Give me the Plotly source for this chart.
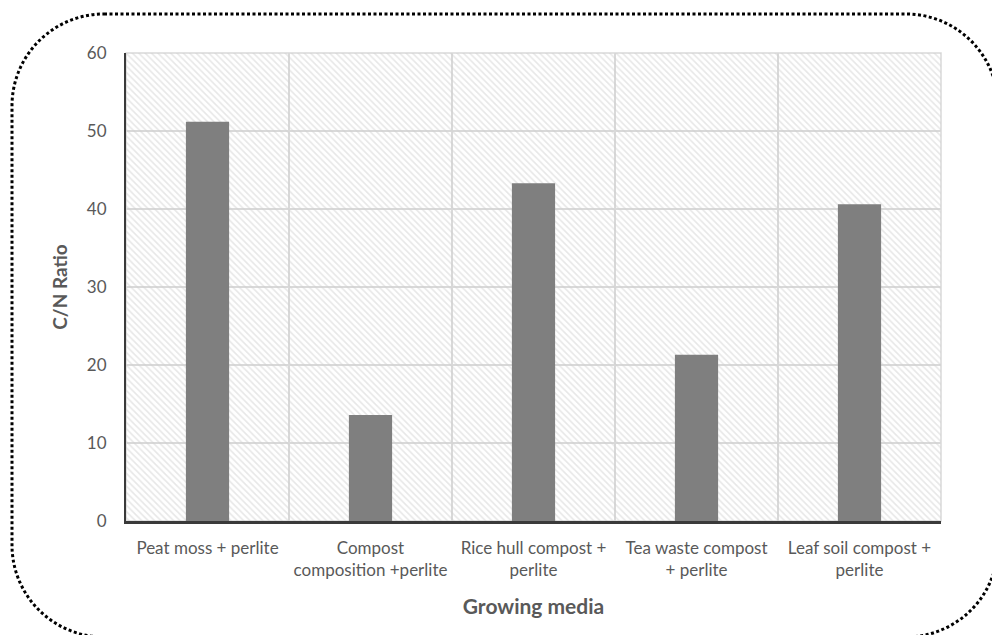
import plotly.graph_objects as go

# Growing media and their measured C/N ratios
media = [
    "Peat moss + perlite",
    "Compost<br>composition +perlite",
    "Rice hull compost +<br>perlite",
    "Tea waste compost<br>+ perlite",
    "Leaf soil compost +<br>perlite",
]
cn_ratio = [51.2, 13.6, 43.3, 21.3, 40.6]
y_ticks = [0, 10, 20, 30, 40, 50, 60]

FONT = "Lato"
TEXT_GREY = "#595959"

W, H = 992, 635
L, R, T, B = 126, 51, 53, 114
PW, PH = W - L - R, H - T - B


def px(x):
    return (x - L) / PW


def py(y):
    return (H - B - y) / PH


def rounded_rect(x0, y0, x1, y1, r):
    # rounded rectangle in paper units, built from cubic corners
    k = 0.5523 * r
    pts = [
        ("M", [(x0 + r, y0)]),
        ("L", [(x1 - r, y0)]),
        ("C", [(x1 - r + k, y0), (x1, y0 + r - k), (x1, y0 + r)]),
        ("L", [(x1, y1 - r)]),
        ("C", [(x1, y1 - r + k), (x1 - r + k, y1), (x1 - r, y1)]),
        ("L", [(x0 + r, y1)]),
        ("C", [(x0 + r - k, y1), (x0, y1 - r + k), (x0, y1 - r)]),
        ("L", [(x0, y0 + r)]),
        ("C", [(x0, y0 + r - k), (x0 + r - k, y0), (x0 + r, y0)]),
    ]
    s = ""
    for cmd, coords in pts:
        s += cmd + " " + " ".join(f"{px(a):.5f},{py(b):.5f}" for a, b in coords) + " "
    return s + "Z"


fig = go.Figure()

# hatched plot background spanning every category
fig.add_trace(go.Bar(
    x=[media[len(media) // 2]], y=[y_ticks[-1]], width=[len(media)],
    marker=dict(
        color="rgba(0,0,0,0)",
        line=dict(width=0),
        pattern=dict(shape="\\", fgcolor="#cfcfcf", bgcolor="rgba(0,0,0,0)",
                     size=4.5, solidity=0.35, fillmode="overlay"),
    ),
    hoverinfo="skip", showlegend=False,
))

fig.add_trace(go.Bar(
    x=media, y=cn_ratio,
    marker=dict(color="#7f7f7f", line=dict(width=0)),
    width=0.265, showlegend=False,
))

fig.update_layout(
    width=W, height=H,
    margin=dict(l=L, r=R, t=T, b=B),
    paper_bgcolor="white", plot_bgcolor="white",
    barmode="overlay",
    font=dict(family=FONT, color=TEXT_GREY, size=17),
)

fig.update_xaxes(
    type="category",
    categoryorder="array", categoryarray=media,
    tickson="boundaries",
    showgrid=True, gridcolor="#d9d9d9", gridwidth=1.5,
    showline=True, linecolor="#3a3a3a", linewidth=2.5,
    ticks="", ticklabelstandoff=10,
    tickfont=dict(size=17, color=TEXT_GREY),
    title=dict(text="<b>Growing media</b>", font=dict(size=21, color=TEXT_GREY), standoff=21),
    range=[-0.5, len(media) - 0.5],
)

fig.update_yaxes(
    range=[0, 60], tickvals=y_ticks,
    showgrid=True, gridcolor="#d9d9d9", gridwidth=1.5,
    showline=True, linecolor="#3a3a3a", linewidth=2,
    zeroline=False,
    ticks="", ticklabelstandoff=14,
    tickfont=dict(size=17, color=TEXT_GREY),
    title=dict(text="<b>C/N Ratio</b>", font=dict(size=19, color=TEXT_GREY), standoff=14),
)

# light border around the plot area
fig.add_shape(type="rect", xref="paper", yref="paper", x0=0, y0=0, x1=1, y1=1,
              line=dict(color="#d9d9d9", width=1.5), layer="below")

# dotted rounded frame around the chart
fig.add_shape(type="path", xref="paper", yref="paper",
              path=rounded_rect(12, 14, 998, 637, 92),
              line=dict(color="black", width=3, dash="3px,2.5px"))

fig.write_html("out.html")
